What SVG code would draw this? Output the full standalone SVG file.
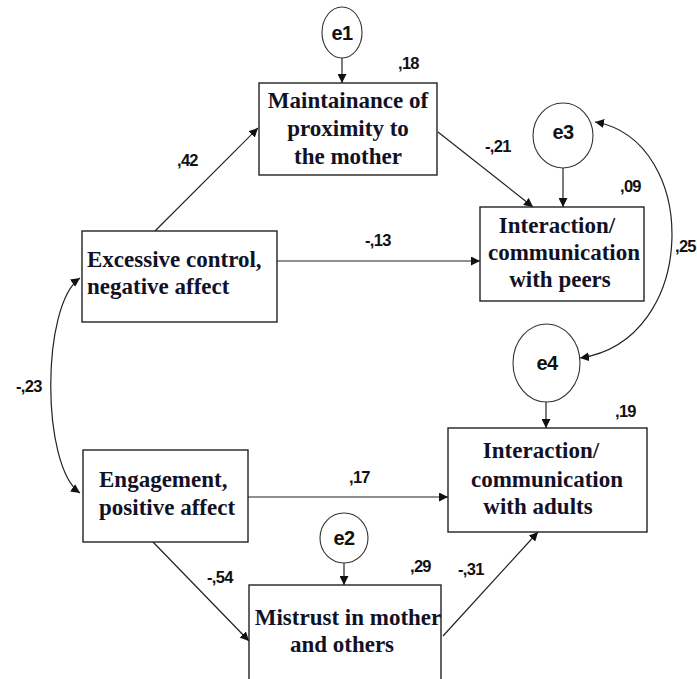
<svg xmlns="http://www.w3.org/2000/svg" width="697" height="679" viewBox="0 0 697 679">
  <style>
    .box { fill: #ffffff; stroke: #222222; stroke-width: 1.4; }
    .err { fill: #ffffff; stroke: #333333; stroke-width: 1.1; }
    .lbl { font-family: "Liberation Serif", "Times New Roman", serif; font-weight: bold; font-size: 23px; fill: #121226; }
    .elbl { font-family: "Liberation Sans", Arial, sans-serif; font-weight: bold; font-size: 20px; fill: #111111; text-anchor: middle; letter-spacing: -0.5px; }
    .coef { font-family: "Liberation Sans", Arial, sans-serif; font-weight: bold; font-size: 16.5px; fill: #111111; letter-spacing: -0.7px; }
    .edge { fill: none; stroke: #222222; stroke-width: 1.2; }
  </style>
  <defs>
    <marker id="arrow" viewBox="0 0 10 10" refX="10" refY="5" markerWidth="9" markerHeight="9" markerUnits="userSpaceOnUse" orient="auto-start-reverse">
      <path d="M0,0 L10,5 L0,10 Z" fill="#111111"/>
    </marker>
  </defs>

  <rect width="697" height="679" fill="#ffffff"/>

  <!-- paths and covariances -->
  <g id="connectors">
    <line class="edge" x1="342" y1="58" x2="342" y2="83" marker-end="url(#arrow)"/>
    <line class="edge" x1="563" y1="168" x2="563" y2="207" marker-end="url(#arrow)"/>
    <line class="edge" x1="546" y1="402" x2="546" y2="428" marker-end="url(#arrow)"/>
    <line class="edge" x1="344" y1="563" x2="344" y2="585" marker-end="url(#arrow)"/>
    <line class="edge" x1="155" y1="231" x2="258" y2="128" marker-end="url(#arrow)"/>
    <line class="edge" x1="438" y1="132" x2="533" y2="207" marker-end="url(#arrow)"/>
    <line class="edge" x1="277" y1="261" x2="480" y2="261" marker-end="url(#arrow)"/>
    <line class="edge" x1="248" y1="497" x2="448" y2="497" marker-end="url(#arrow)"/>
    <line class="edge" x1="153" y1="542" x2="249" y2="641" marker-end="url(#arrow)"/>
    <line class="edge" x1="443" y1="636" x2="538" y2="532" marker-end="url(#arrow)"/>
    <path class="edge" d="M80,278 C41,305 41,466 80,493" marker-start="url(#arrow)" marker-end="url(#arrow)"/>
    <path class="edge" d="M595,122 C700,140 700,340 580,358" marker-start="url(#arrow)" marker-end="url(#arrow)"/>
  </g>

  <!-- coefficients -->
  <g id="coefficients">
    <text class="coef" x="398" y="69">,18</text>
    <text class="coef" x="177" y="166">,42</text>
    <text class="coef" x="485" y="152">-,21</text>
    <text class="coef" x="365" y="246">-,13</text>
    <text class="coef" x="620" y="192">,09</text>
    <text class="coef" x="675" y="252">,25</text>
    <text class="coef" x="16" y="392">-,23</text>
    <text class="coef" x="615" y="417">,19</text>
    <text class="coef" x="349" y="483">,17</text>
    <text class="coef" x="207" y="583">-,54</text>
    <text class="coef" x="410" y="572">,29</text>
    <text class="coef" x="458" y="575">-,31</text>
  </g>

  <g id="e1">
    <ellipse class="err" cx="342" cy="32.5" rx="20" ry="25.5"/>
    <text class="elbl" x="342" y="40">e1</text>
  </g>
  <g id="e3">
    <ellipse class="err" cx="563" cy="135.5" rx="30" ry="32.5"/>
    <text class="elbl" x="563" y="139">e3</text>
  </g>
  <g id="e4">
    <ellipse class="err" cx="546.5" cy="363" rx="33.5" ry="39"/>
    <text class="elbl" x="547" y="370">e4</text>
  </g>
  <g id="e2">
    <ellipse class="err" cx="344" cy="538" rx="24" ry="25"/>
    <text class="elbl" x="344" y="545">e2</text>
  </g>

  <g id="proximity">
    <rect class="box" x="259" y="83" width="178" height="92"/>
    <text class="lbl" x="348" y="108" text-anchor="middle">Maintainance of</text>
    <text class="lbl" x="348" y="136" text-anchor="middle">proximity to</text>
    <text class="lbl" x="348" y="164" text-anchor="middle">the mother</text>
  </g>

  <g id="peers">
    <rect class="box" x="480" y="207" width="164" height="94"/>
    <text class="lbl" x="557" y="233" text-anchor="middle">Interaction/</text>
    <text class="lbl" x="564" y="260" text-anchor="middle">communication</text>
    <text class="lbl" x="560" y="287" text-anchor="middle">with peers</text>
  </g>

  <g id="control">
    <rect class="box" x="82" y="231" width="195" height="91"/>
    <text class="lbl" x="87" y="267">Excessive control,</text>
    <text class="lbl" x="87" y="294">negative affect</text>
  </g>

  <g id="engagement">
    <rect class="box" x="83" y="450" width="165" height="92"/>
    <text class="lbl" x="99" y="487">Engagement,</text>
    <text class="lbl" x="99" y="515">positive affect</text>
  </g>

  <g id="adults">
    <rect class="box" x="448" y="428" width="199" height="104"/>
    <text class="lbl" x="541" y="458" text-anchor="middle">Interaction/</text>
    <text class="lbl" x="547" y="487" text-anchor="middle">communication</text>
    <text class="lbl" x="538" y="514" text-anchor="middle">with adults</text>
  </g>

  <g id="mistrust">
    <rect class="box" x="249" y="585" width="192" height="110"/>
    <text class="lbl" x="348" y="625" text-anchor="middle">Mistrust in mother</text>
    <text class="lbl" x="342" y="652" text-anchor="middle">and others</text>
  </g>
</svg>
